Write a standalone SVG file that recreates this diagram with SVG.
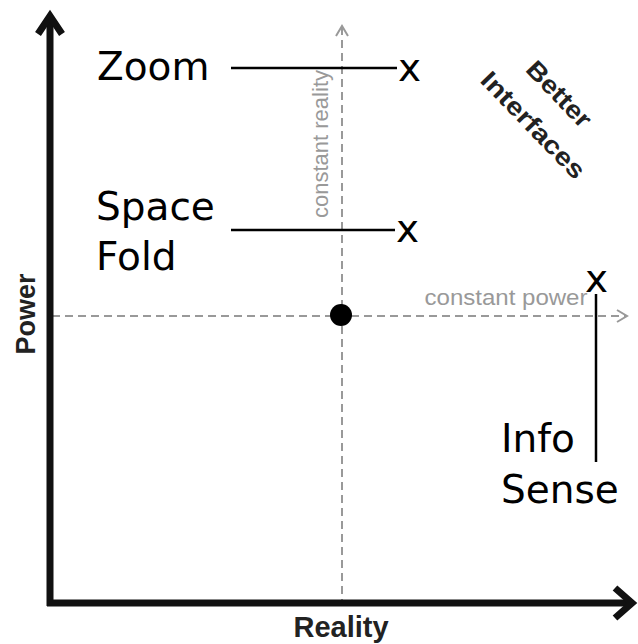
<svg xmlns="http://www.w3.org/2000/svg" width="638" height="644" viewBox="0 0 638 644">
<style>
.lbl{font-family:"DejaVu Sans",sans-serif;font-size:39px;fill:#000}
.ax{font-family:"Liberation Sans",Arial,sans-serif;font-weight:bold;fill:#222}
.gr{font-family:"Liberation Sans",Arial,sans-serif;font-size:22px;fill:#999}
.dash{stroke:#999;stroke-width:2;stroke-dasharray:8,5;fill:none}
.thin{stroke:#000;stroke-width:2.5;fill:none}
</style>
<rect width="638" height="644" fill="#fff"/>
<g id="connectors">
  <line class="dash" x1="342" y1="27" x2="342" y2="600"/>
  <polyline points="336,36 342,26 348,36" fill="none" stroke="#999" stroke-width="2"/>
  <line class="dash" x1="52" y1="316" x2="626" y2="316"/>
  <polyline points="617,310 627,316 617,322" fill="none" stroke="#999" stroke-width="2"/>
  <line class="thin" x1="231" y1="68" x2="397" y2="68"/>
  <line class="thin" x1="231" y1="230" x2="395" y2="230"/>
  <line class="thin" x1="596" y1="294" x2="596" y2="462"/>
</g>
<g id="axes">
  <line x1="50" y1="16" x2="50" y2="606" stroke="#111" stroke-width="7"/>
  <line x1="47" y1="603" x2="632" y2="603" stroke="#111" stroke-width="7"/>
  <polyline points="38,34 50,16 62,34" fill="none" stroke="#111" stroke-width="7" stroke-linejoin="miter"/>
  <polyline points="615,588 632,603 615,618" fill="none" stroke="#111" stroke-width="7"/>
  <text class="ax" font-size="27" transform="translate(35,314) rotate(-90)" text-anchor="middle">Power</text>
  <text class="ax" font-size="29" x="341" y="637" text-anchor="middle">Reality</text>
</g>
<g id="origin">
  <circle cx="341" cy="315" r="11" fill="#000"/>
</g>
<g id="axis-labels">
  <text class="gr" transform="translate(328,144) rotate(-90)" text-anchor="middle" textLength="148" lengthAdjust="spacingAndGlyphs">constant reality</text>
  <text class="gr" x="506" y="305" text-anchor="middle" textLength="163" lengthAdjust="spacingAndGlyphs">constant power</text>
</g>
<g id="zoom">
  <text class="lbl" x="97" y="80">Zoom</text>
  <text class="lbl" x="398" y="81">x</text>
</g>
<g id="spacefold">
  <text class="lbl" x="96" y="220">Space</text>
  <text class="lbl" x="96" y="270">Fold</text>
  <text class="lbl" x="396" y="242">x</text>
</g>
<g id="infosense">
  <text class="lbl" x="585" y="292">x</text>
  <text class="lbl" x="501" y="452">Info</text>
  <text class="lbl" x="501" y="503">Sense</text>
</g>
<g id="better">
  <text class="ax" font-size="25" transform="translate(553,100) rotate(46)" text-anchor="middle" textLength="82" lengthAdjust="spacingAndGlyphs">Better</text>
  <text class="ax" font-size="25" transform="translate(527,131) rotate(46)" text-anchor="middle" textLength="138" lengthAdjust="spacingAndGlyphs">Interfaces</text>
</g>
</svg>
